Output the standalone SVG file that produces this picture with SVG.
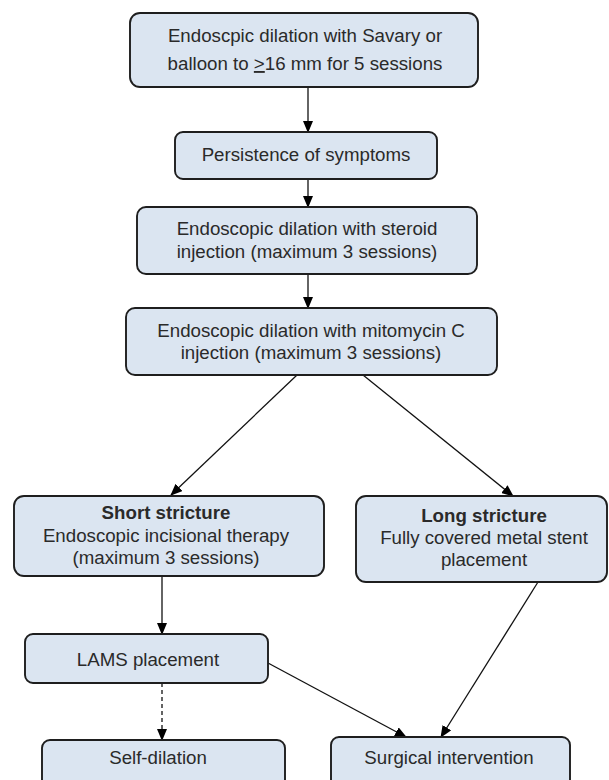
<svg xmlns="http://www.w3.org/2000/svg" width="609" height="780" viewBox="0 0 609 780">
<defs>
<style>
.box{fill:#dbe5f1;stroke:#1e1e1e;stroke-width:1.9}
.t{font-family:"Liberation Sans",Arial,sans-serif;font-size:18.7px;fill:#2a2a2a;text-anchor:middle}
.b{font-weight:bold}
.c{stroke:#111;stroke-width:1.3;fill:none}
.d{stroke-dasharray:4 3}
</style>
<marker id="ah" markerUnits="userSpaceOnUse" markerWidth="12" markerHeight="10" refX="11" refY="5" orient="auto">
<path d="M0,0 L12,5 L0,10 z" fill="#000"/>
</marker>
</defs>
<rect width="609" height="780" fill="#fff"/>
<g id="connectors">
<line class="c" x1="308" y1="87" x2="308" y2="132" marker-end="url(#ah)"/>
<line class="c" x1="308" y1="179" x2="308" y2="207" marker-end="url(#ah)"/>
<line class="c" x1="308" y1="274" x2="308" y2="308" marker-end="url(#ah)"/>
<line class="c" x1="297" y1="375" x2="171" y2="495" marker-end="url(#ah)"/>
<line class="c" x1="363" y1="375" x2="513" y2="496" marker-end="url(#ah)"/>
<line class="c" x1="162" y1="576" x2="162" y2="634" marker-end="url(#ah)"/>
<line class="c d" x1="162" y1="683" x2="162" y2="740" marker-end="url(#ah)"/>
<line class="c" x1="268" y1="663" x2="406" y2="737" marker-end="url(#ah)"/>
<line class="c" x1="538" y1="582" x2="441" y2="737" marker-end="url(#ah)"/>
</g>
<g id="n1">
<rect class="box" x="130" y="13" width="348" height="74" rx="10"/>
<text class="t" x="305" y="42">Endoscpic dilation with Savary or</text>
<text class="t" x="305" y="70">balloon to <tspan text-decoration="underline">&gt;</tspan>16 mm for 5 sessions</text>
</g>
<g id="n2">
<rect class="box" x="175" y="132" width="262" height="47" rx="8"/>
<text class="t" x="306" y="160.5">Persistence of symptoms</text>
</g>
<g id="n3">
<rect class="box" x="137" y="207" width="340" height="67" rx="9"/>
<text class="t" x="307" y="235">Endoscopic dilation with steroid</text>
<text class="t" x="307" y="258">injection (maximum 3 sessions)</text>
</g>
<g id="n4">
<rect class="box" x="126" y="308" width="371" height="67" rx="9"/>
<text class="t" x="311" y="336.5">Endoscopic dilation with mitomycin C</text>
<text class="t" x="311" y="359">injection (maximum 3 sessions)</text>
</g>
<g id="n5">
<rect class="box" x="14" y="496" width="310" height="80" rx="10"/>
<text class="t b" x="166" y="519">Short stricture</text>
<text class="t" x="166" y="542">Endoscopic incisional therapy</text>
<text class="t" x="166" y="564">(maximum 3 sessions)</text>
</g>
<g id="n6">
<rect class="box" x="356" y="496" width="251" height="86" rx="10"/>
<text class="t b" x="484" y="522">Long stricture</text>
<text class="t" x="484" y="544">Fully covered metal stent</text>
<text class="t" x="484" y="566">placement</text>
</g>
<g id="n7">
<rect class="box" x="25" y="634" width="243" height="49" rx="8"/>
<text class="t" x="148" y="665.5">LAMS placement</text>
</g>
<g id="n8">
<rect class="box" x="42" y="740" width="243" height="60" rx="8"/>
<text class="t" x="158" y="763.5">Self-dilation</text>
</g>
<g id="n9">
<rect class="box" x="331" y="737" width="239" height="63" rx="8"/>
<text class="t" x="449" y="763.5">Surgical intervention</text>
</g>
</svg>
